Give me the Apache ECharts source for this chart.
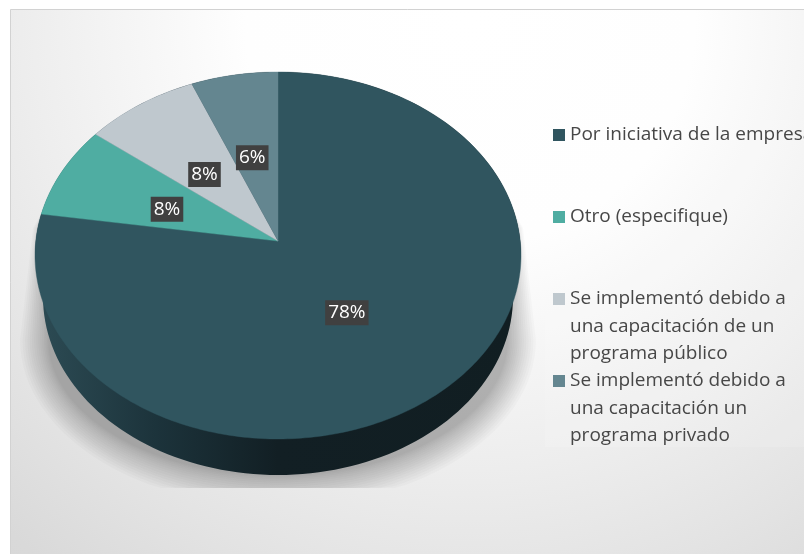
<!DOCTYPE html>
<html><head><meta charset="utf-8">
<style>html,body{margin:0;padding:0;background:#fff;overflow:hidden}#c{width:804px;height:554px}</style>
<script src="https://cdn.jsdelivr.net/npm/echarts@6/dist/echarts.min.js"></script>
</head><body><div id="c"></div>
<script>
const categories = ['Por iniciativa de la empresa','Otro (especifique)','Se implementó debido a\nuna capacitación de un\nprograma público','Se implementó debido a\nuna capacitación un\nprograma privado'];
const values = [78,8,8,6];
const colors = ['#30555f','#4fada2','#bfc8ce','#648690'];
const legendCenters = [135,217,299,381];
const labelReach = [0.45,0.5,0.51,0.52];

const face = {cx:278,cy:255.5,rx:243,ry:183.5,apexX:278,apexY:241,tilt:0.04};
const base = {cx:278,cy:297,rx:235,ry:178};
const shade = {cy:340,rx:229,ry:135,top:205,tip:228,left:20,right:536,bottom:488,layers:15};
const labelShift = [-3,3];
const total = values.reduce((a,b)=>a+b,0);
const FONT = 'Open Sans';

function rim(frac){
  const t = 2*Math.PI*frac, x = Math.sin(t), y = Math.cos(t), a = face.tilt;
  const d = 1 + a*y;
  return [face.cx + face.rx*x*Math.sqrt(1-a*a)/d, face.cy - face.ry*(y+a)/d];
}
function wallPoints(){
  const pts = [];
  for(let d=180;d<=360;d+=2){const t=d*Math.PI/180;pts.push([face.cx+face.rx*Math.cos(t),face.cy+face.ry*Math.sin(t)]);}
  for(let d=0;d<=180;d+=2){const t=d*Math.PI/180;pts.push([base.cx+base.rx*Math.cos(t),base.cy+base.ry*Math.sin(t)]);}
  return pts;
}
function shadeLayers(){
  const out = [];
  for(let k=shade.layers;k>=1;k--){
    const g = 29*Math.pow(k/shade.layers,1.3);
    const rx = shade.rx+g, ry = shade.ry+g*1.1, w = 232+g*0.45;
    const pts = [[face.cx-232,shade.top],[face.cx+232,shade.top],[face.cx+w,shade.tip]];
    for(let d=0;d<=180;d+=3){
      const t=d*Math.PI/180;
      pts.push([Math.max(shade.left,Math.min(shade.right,face.cx+rx*Math.cos(t))),Math.min(shade.bottom,shade.cy+ry*Math.sin(t))]);
    }
    pts.push([face.cx-w,shade.tip]);
    out.push({type:'polygon',shape:{points:pts},style:{fill:'rgba(0,0,0,0.02)'}});
  }
  return out;
}
function makeSeries(i){
  const start = values.slice(0,i).reduce((a,b)=>a+b,0);
  return {
    type:'custom', name:categories[i], coordinateSystem:'none', silent:true, z:2+i,
    itemStyle:{color:colors[i]},
    data:[[values[i],start]],
    renderItem:function(params,api){
      const v = api.value(0), s = api.value(1);
      const pts = [[face.apexX,face.apexY]];
      const n = Math.max(2,Math.round(v/total*360));
      for(let k=0;k<=n;k++) pts.push(rim((s+v*k/n)/total));
      let children = [];
      if(i===0){
        children = children.concat(shadeLayers());
        children.push({type:'polygon',shape:{points:wallPoints()},style:{
          fill:{type:'linear',x:0,y:0,x2:1,y2:0,colorStops:[{offset:0,color:'#2d4c55'},{offset:.25,color:'#1c333b'},{offset:.5,color:'#121f24'},{offset:1,color:'#111e22'}]}}});
      }
      children.push({type:'polygon',shape:{points:pts},style:{fill:colors[i],stroke:colors[i],lineWidth:.4}});
      return {type:'group',children:children};
    }
  };
}
function labelSeries(){
  return {
    type:'custom', name:'etiquetas', coordinateSystem:'none', silent:true, z:20,
    data:values.map((v,i)=>[v,values.slice(0,i).reduce((a,b)=>a+b,0),i]),
    renderItem:function(params,api){
      const v = api.value(0), s = api.value(1), i = api.value(2);
      const mid = rim((s+v/2)/total), r = labelReach[i];
      return {type:'text',z2:30,style:{
        text:v+'%',x:face.apexX+(mid[0]-face.apexX)*r+labelShift[0],y:face.apexY+(mid[1]-face.apexY)*r+labelShift[1],
        align:'center',verticalAlign:'middle',fill:'#ffffff',font:'500 19px '+FONT,
        backgroundColor:'#404040',padding:[3,3,3,3],
        boxShadowBlur:3,boxShadowColor:'rgba(0,0,0,.5)',boxShadowOffsetX:1.5,boxShadowOffsetY:1.5}};
    }
  };
}
const lineH = 27.4;
const legends = categories.map((name,i)=>{
  const lines = name.split('\n').length;
  const lead = lines-1;
  const h = (lines+lead)*lineH;
  return {
    type:'plain', orient:'vertical', left:553, top:legendCenters[i]-h/2, padding:0,
    itemWidth:12,itemHeight:12,icon:'rect',selectedMode:false,data:[name],
    formatter:n=>'\n'.repeat(lead)+n,
    textStyle:{color:'#474747',fontFamily:FONT,fontSize:19,lineHeight:lineH}
  };
});
const chart = echarts.init(document.getElementById('c'),null,{renderer:'canvas',width:804,height:554});
chart.setOption({
  animation:false,
  graphic:[
    {type:'rect',z:-5,silent:true,shape:{x:10.5,y:9.5,width:810,height:560},style:{
      fill:{type:'radial',global:true,x:470,y:20,r:725,colorStops:[{offset:0,color:'#ffffff'},{offset:.31,color:'#fefefe'},{offset:.62,color:'#ededed'},{offset:.79,color:'#e3e3e3'},{offset:.95,color:'#d9d9d9'},{offset:1,color:'#d8d8d8'}]},
      stroke:'#d2d2d2',lineWidth:1}},
    {type:'rect',z:-4,silent:true,shape:{x:545,y:120,width:259,height:327},style:{fill:'rgba(255,255,255,0.12)'}}
  ],
  legend:legends,
  series:categories.map((c,i)=>makeSeries(i)).concat([labelSeries()])
});
</script></body></html>
